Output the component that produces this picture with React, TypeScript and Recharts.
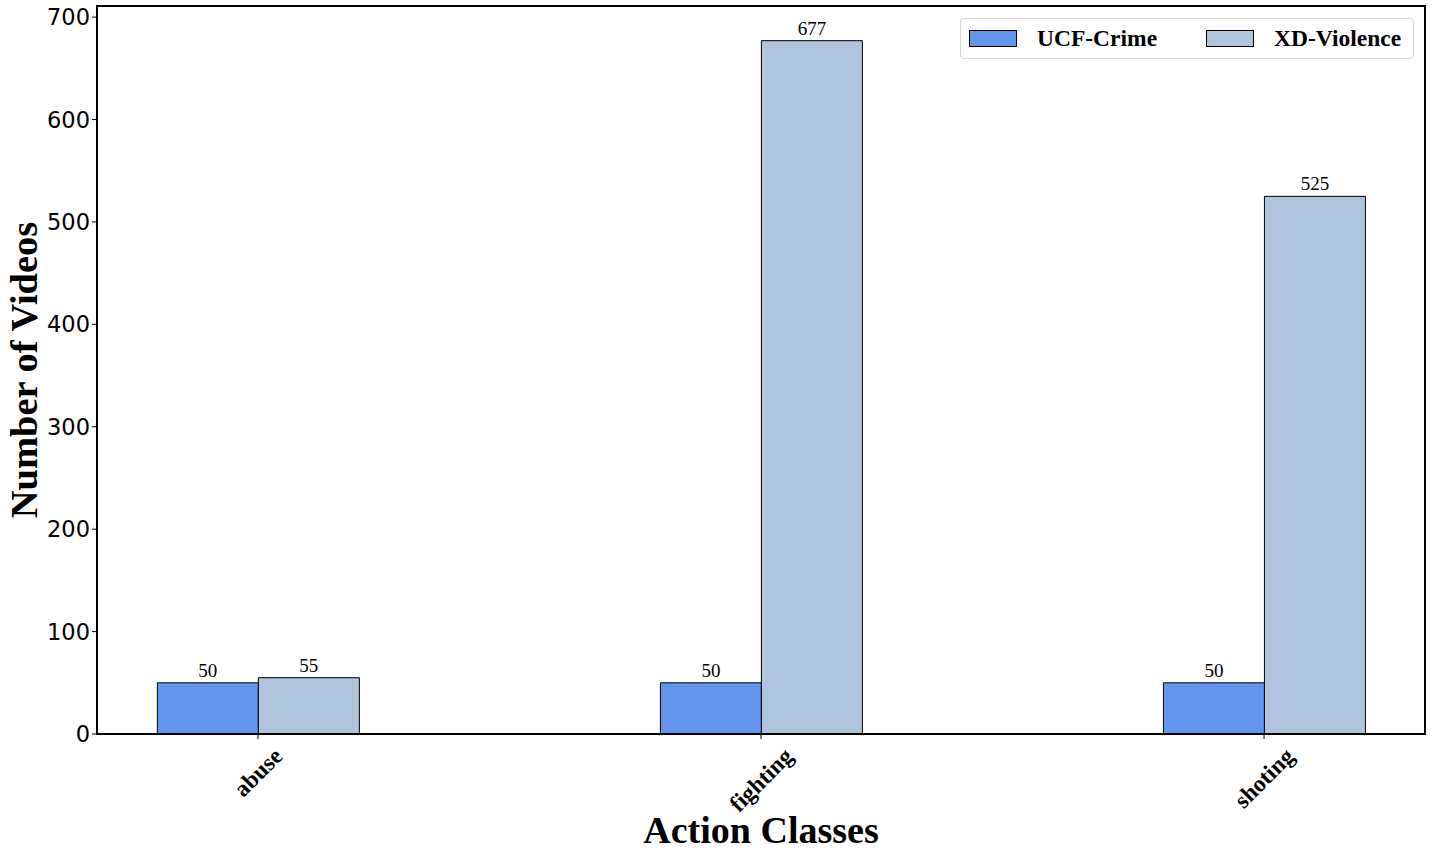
import React from 'react';
import { BarChart, Bar, XAxis, YAxis, LabelList, ReferenceArea } from 'recharts';

const categories = ['abuse', 'fighting', 'shoting'];
const ucfCrime = [50, 50, 50];
const xdViolence = [55, 677, 525];
const yTicks = [0, 100, 200, 300, 400, 500, 600, 700];
const xTicks = [0, 1, 2];
const xDomain: [number, number] = [-0.32, 2.32];
const yDomain: [number, number] = [0, 710.85];
const seriesNames = ['UCF-Crime', 'XD-Violence'];

const data = categories.map((c, i) => ({ x: i, name: c, ucf: ucfCrime[i], xd: xdViolence[i] }));

const SERIF = '"Liberation Serif", "Times New Roman", serif';
const SANS = '"DejaVu Sans", sans-serif';
const UCF_COLOR = '#6495ED';
const XD_COLOR = '#B0C4DE';
const seriesColors = [UCF_COLOR, XD_COLOR];

let measureCtx: CanvasRenderingContext2D | null = null;
function measure(text: string, font: string): number {
  if (!measureCtx) measureCtx = document.createElement('canvas').getContext('2d');
  if (!measureCtx) return text.length * 11;
  measureCtx.font = font;
  return measureCtx.measureText(text).width;
}

const XTick = (props: any) => {
  const { x, y, payload } = props;
  const label = categories[payload.value] ?? '';
  const fs = 23.5;
  const w = measure(label, `bold ${fs}px ${SERIF}`);
  const h = fs * 0.85;
  const top = y + 4;
  const cy = top + (w + h) * 0.3536;
  return (
    <text
      x={x}
      y={cy}
      textAnchor="middle"
      dominantBaseline="central"
      transform={`rotate(-45, ${x}, ${cy})`}
      style={{ fontFamily: SERIF, fontWeight: 'bold', fontSize: fs, fill: '#000' }}
    >
      {label}
    </text>
  );
};

const XLabel = (props: any) => {
  const vb = props.viewBox || {};
  const cx = vb.x + vb.width / 2;
  return (
    <text x={cx} y={843} textAnchor="middle" style={{ fontFamily: SERIF, fontWeight: 'bold', fontSize: 38, fill: '#000' }}>
      Action Classes
    </text>
  );
};

const YLabel = (props: any) => {
  const vb = props.viewBox || {};
  const cy = vb.y + vb.height / 2;
  const x = 37;
  return (
    <text
      x={x}
      y={cy}
      textAnchor="middle"
      transform={`rotate(-90, ${x}, ${cy})`}
      style={{ fontFamily: SERIF, fontWeight: 'bold', fontSize: 38.5, fill: '#000' }}
    >
      Number of Videos
    </text>
  );
};

const LegendBox = () => (
  <div
    style={{
      position: 'absolute',
      left: 960,
      top: 18,
      display: 'flex',
      alignItems: 'center',
      boxSizing: 'border-box',
      width: 454,
      height: 41,
      border: '1px solid #d6d6d6',
      borderRadius: 4,
      background: '#fff',
      paddingLeft: 8,
    }}
  >
    {seriesNames.map((name, i) => (
      <div key={name} style={{ display: 'flex', alignItems: 'center', marginLeft: i === 0 ? 0 : 49 }}>
        <div style={{ width: 48, height: 17, boxSizing: 'border-box', background: seriesColors[i], border: '1px solid #000' }} />
        <span
          style={{
            marginLeft: 20,
            fontFamily: SERIF,
            fontWeight: 'bold',
            fontSize: 23.5,
            color: '#000',
            lineHeight: '23px',
          }}
        >
          {name}
        </span>
      </div>
    ))}
  </div>
);

const valueLabelStyle = { fontFamily: SERIF, fontSize: 19, fill: '#000' };

export default function App() {
  return (
    <div style={{ position: 'absolute', left: 0, top: 0, width: 1432, height: 856, background: '#fff' }}>
      <BarChart
        width={1432}
        height={856}
        data={data}
        margin={{ top: 6, right: 7, left: 1, bottom: 0 }}
        barGap={0}
        barCategoryGap="30%"
      >
        <XAxis
          type="number"
          dataKey="x"
          domain={xDomain}
          ticks={xTicks}
          allowDataOverflow
          height={122}
          tickSize={5}
          tickMargin={2}
          tick={<XTick />}
          axisLine={{ stroke: '#000', strokeWidth: 2 }}
          tickLine={{ stroke: '#000', strokeWidth: 1 }}
          interval={0}
          label={<XLabel />}
        />
        <YAxis
          type="number"
          domain={yDomain}
          ticks={yTicks}
          allowDataOverflow
          width={96}
          tickSize={5}
          tickMargin={2}
          interval={0}
          axisLine={{ stroke: '#000', strokeWidth: 2 }}
          tickLine={{ stroke: '#000', strokeWidth: 1 }}
          tick={{ fontFamily: SANS, fontSize: 22.5, fill: '#000' }}
          label={<YLabel />}
        />
        <ReferenceArea
          x1={xDomain[0]}
          x2={xDomain[1]}
          y1={yDomain[0]}
          y2={yDomain[1]}
          fill="none"
          fillOpacity={0}
          stroke="#000"
          strokeWidth={2}
          ifOverflow="visible"
        />
        <Bar dataKey="ucf" name={seriesNames[0]} fill={UCF_COLOR} stroke="#000" strokeWidth={1} isAnimationActive={false}>
          <LabelList dataKey="ucf" position="top" offset={6} style={valueLabelStyle} />
        </Bar>
        <Bar dataKey="xd" name={seriesNames[1]} fill={XD_COLOR} stroke="#000" strokeWidth={1} isAnimationActive={false}>
          <LabelList dataKey="xd" position="top" offset={6} style={valueLabelStyle} />
        </Bar>
      </BarChart>
      <LegendBox />
    </div>
  );
}
